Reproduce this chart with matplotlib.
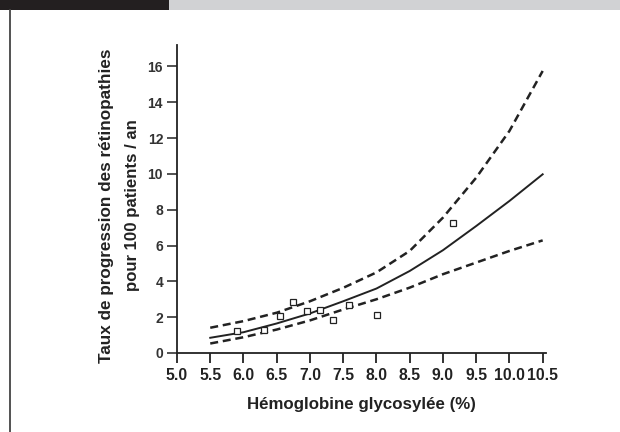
import matplotlib
matplotlib.use("Agg")
import matplotlib.pyplot as plt
from matplotlib.patches import Rectangle
from matplotlib.lines import Line2D

# valeurs
hba1c = [5.5, 6.0, 6.5, 7.0, 7.5, 8.0, 8.5, 9.0, 9.5, 10.0, 10.5]
taux_ajuste = [0.85, 1.16, 1.65, 2.21, 2.89, 3.6, 4.58, 5.74, 7.09, 8.49, 9.98]
ic_haut = [1.41, 1.78, 2.25, 2.89, 3.64, 4.5, 5.7, 7.56, 9.79, 12.4, 15.75]
ic_bas = [0.53, 0.88, 1.31, 1.82, 2.43, 3.0, 3.65, 4.40, 5.05, 5.70, 6.29]

pts_x = [5.90, 6.31, 6.55, 6.75, 6.96, 7.15, 7.34, 7.59, 8.01, 9.15]
pts_y = [1.25, 1.28, 2.07, 2.85, 2.35, 2.38, 1.84, 2.66, 2.14, 7.28]

xticks = [5.0, 5.5, 6.0, 6.5, 7.0, 7.5, 8.0, 8.5, 9.0, 9.5, 10.0, 10.5]
yticks = [0, 2, 4, 6, 8, 10, 12, 14, 16]

plt.rcParams['font.family'] = ['Liberation Sans', 'DejaVu Sans']

encre = '#222222'

fig = plt.figure(figsize=(6.2, 4.32), dpi=100)
fig.patch.set_facecolor('white')

# bandeau du haut + filet gauche
fig.add_artist(Rectangle((0, 1 - 10 / 432), 169 / 620, 10 / 432,
                         transform=fig.transFigure, color='#231f20', lw=0))
fig.add_artist(Rectangle((169 / 620, 1 - 10 / 432), 451 / 620, 10 / 432,
                         transform=fig.transFigure, color='#d1d2d4', lw=0))
fig.add_artist(Line2D([9.5 / 620, 9.5 / 620], [0, 1 - 10 / 432],
                      transform=fig.transFigure, color='#444444', lw=1.3))

ax = fig.add_axes([177 / 620, 79 / 432, 369 / 620, 308 / 432])
ax.set_xlim(5.0, 10.55)
ax.set_ylim(0, 17.2)

ax.plot(hba1c, taux_ajuste, color=encre, lw=1.4)
ax.plot(hba1c, ic_haut, color=encre, lw=1.8, dashes=(3.2, 1.9))
ax.plot(hba1c, ic_bas, color=encre, lw=1.8, dashes=(3.2, 1.9))
ax.plot(pts_x, pts_y, ls='none', marker='s', ms=4.5, mfc='white',
        mec=encre, mew=0.9)

for cote in ['top', 'right']:
    ax.spines[cote].set_visible(False)
for cote in ['left', 'bottom']:
    ax.spines[cote].set_color(encre)
    ax.spines[cote].set_linewidth(1.3)

ax.set_xticks(xticks)
ax.set_xticklabels([f'{v:.1f}' for v in xticks], fontsize=11.3,
                   fontweight='bold', color=encre)
ax.set_yticks(yticks)
ax.set_yticklabels([str(v) for v in yticks], fontsize=10,
                   fontweight='bold', color='#333333')
ax.tick_params(axis='x', direction='out', length=7, width=1.3, color=encre, pad=4)
ax.tick_params(axis='y', direction='out', length=7, width=1.1, color=encre, pad=3)

ax.set_xlabel('Hémoglobine glycosylée (%)', fontsize=12.2, fontweight='bold',
              color=encre, labelpad=10)
fig.text(107 / 620, 1 - 206 / 432, 'Taux de progression des rétinopathies',
         rotation=90, ha='center', va='center', fontsize=12.3,
         fontweight='bold', color=encre)
fig.text(132 / 620, 1 - 205 / 432, 'pour 100 patients / an',
         rotation=90, ha='center', va='center', fontsize=12.1,
         fontweight='bold', color=encre)

fig.savefig('out.png', dpi=100)
